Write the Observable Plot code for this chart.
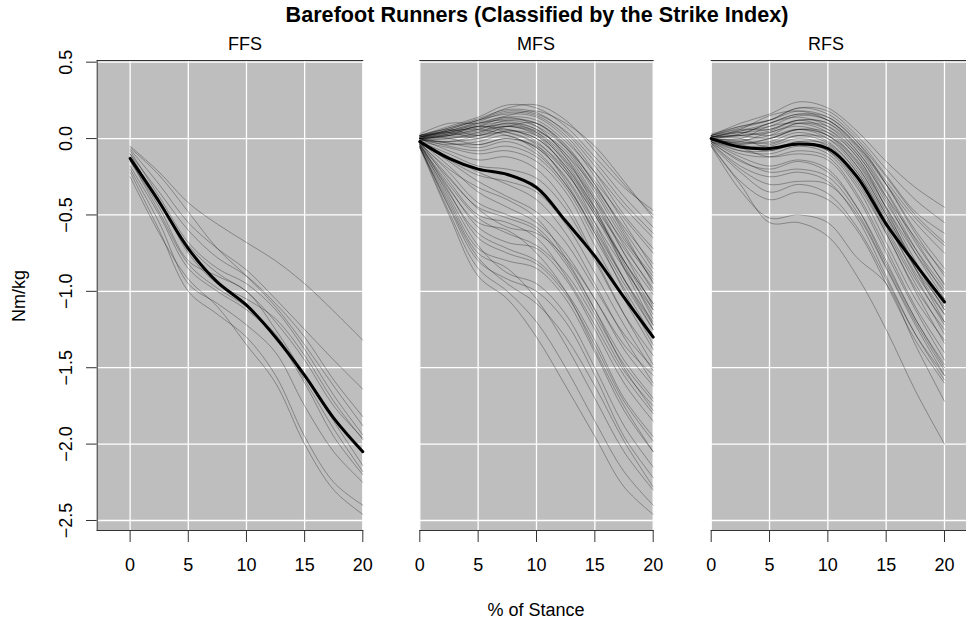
<!DOCTYPE html>
<html>
<head>
<meta charset="utf-8">
<script src="https://cdn.jsdelivr.net/npm/d3@7"></script>
<script src="https://cdn.jsdelivr.net/npm/@observablehq/plot@0.6"></script>
<style>
  html, body { margin: 0; padding: 0; background: #fff; }
  #chart { position: relative; width: 966px; height: 623px; overflow: hidden;
           font-family: "Liberation Sans", Arial, Helvetica, sans-serif; color: #000; }
  .lbl { position: absolute; white-space: nowrap; line-height: 1; }
  #chart svg { position: absolute; top: 0; }
</style>
</head>
<body>
<div id="chart"></div>
<script>
// Sample points along the stance phase (% of stance)
const stance = [0, 2.5, 5, 7.5, 10, 12.5, 15, 17.5, 20];

const groups = ["FFS", "MFS", "RFS"];
const xTicks = [0, 5, 10, 15, 20];
const yTicks = [-2.5, -2, -1.5, -1, -0.5, 0, 0.5];

// Forefoot strikers: individual moment curves (Nm/kg)
const ffsCurves = [
  [-0.05, -0.22, -0.42, -0.56, -0.68, -0.80, -0.95, -1.13, -1.32],
  [-0.07, -0.30, -0.55, -0.72, -0.86, -1.05, -1.25, -1.45, -1.64],
  [-0.10, -0.35, -0.60, -0.78, -0.90, -1.08, -1.30, -1.58, -1.82],
  [-0.08, -0.38, -0.68, -0.85, -0.95, -1.12, -1.38, -1.68, -1.94],
  [-0.12, -0.40, -0.75, -0.95, -1.05, -1.18, -1.42, -1.72, -1.97],
  [-0.15, -0.45, -0.80, -0.90, -1.00, -1.25, -1.55, -1.85, -2.14],
  [-0.18, -0.50, -0.85, -1.00, -1.12, -1.30, -1.60, -1.95, -2.20],
  [-0.20, -0.55, -0.95, -1.08, -1.22, -1.40, -1.75, -2.05, -2.25],
  [-0.22, -0.60, -1.00, -1.15, -1.30, -1.55, -1.95, -2.25, -2.40],
  [-0.25, -0.62, -0.92, -1.10, -1.35, -1.60, -2.00, -2.30, -2.46],
  [-0.10, -0.42, -0.70, -0.88, -1.00, -1.20, -1.45, -1.75, -1.96],
  [-0.14, -0.48, -0.82, -0.98, -1.10, -1.28, -1.58, -1.90, -2.18],
  [-0.06, -0.24, -0.48, -0.72, -0.90, -1.10, -1.35, -1.62, -1.88]
];
const ffsMean = [-0.13, -0.415, -0.72, -0.94, -1.09, -1.30, -1.55, -1.83, -2.05];

// Midfoot strikers
const mfsCurves = [
  [0.02, 0.08, 0.14, 0.22, 0.20, 0.08, -0.12, -0.32, -0.47],
  [0.01, 0.06, 0.12, 0.18, 0.16, 0.05, -0.15, -0.38, -0.58],
  [0.03, 0.10, 0.10, 0.15, 0.18, 0.10, -0.05, -0.28, -0.52],
  [0.00, 0.04, 0.08, 0.14, 0.12, -0.02, -0.22, -0.45, -0.65],
  [0.01, 0.05, 0.10, 0.12, 0.08, -0.06, -0.28, -0.52, -0.75],
  [0.00, 0.02, 0.06, 0.10, 0.06, -0.10, -0.32, -0.58, -0.82],
  [0.02, 0.06, 0.02, 0.08, 0.10, -0.05, -0.30, -0.60, -0.88],
  [0.00, 0.00, 0.04, 0.10, 0.04, -0.14, -0.40, -0.68, -0.92],
  [-0.01, 0.03, 0.08, 0.06, 0.00, -0.18, -0.45, -0.72, -0.98],
  [0.01, 0.04, 0.00, 0.05, 0.02, -0.15, -0.42, -0.75, -1.02],
  [0.00, -0.02, 0.02, 0.06, -0.02, -0.22, -0.50, -0.80, -1.08],
  [0.02, 0.05, 0.06, 0.02, -0.06, -0.25, -0.55, -0.85, -1.12],
  [0.00, 0.00, -0.04, 0.00, -0.05, -0.22, -0.50, -0.84, -1.15],
  [-0.01, -0.04, -0.02, 0.02, -0.08, -0.30, -0.60, -0.92, -1.20],
  [0.01, 0.02, 0.04, 0.08, 0.02, -0.20, -0.55, -0.92, -1.25],
  [0.00, -0.05, -0.08, -0.05, -0.12, -0.32, -0.65, -0.98, -1.30],
  [0.02, 0.04, 0.10, 0.14, 0.08, -0.12, -0.45, -0.85, -1.22],
  [0.00, 0.06, 0.12, 0.16, 0.14, 0.00, -0.25, -0.55, -0.85],
  [0.01, 0.03, 0.06, 0.12, 0.10, -0.04, -0.30, -0.62, -0.95],
  [-0.02, -0.06, -0.10, -0.08, -0.15, -0.35, -0.70, -1.05, -1.38],
  [0.00, -0.08, -0.14, -0.12, -0.20, -0.42, -0.78, -1.15, -1.48],
  [0.00, 0.02, 0.08, 0.04, -0.04, -0.28, -0.62, -1.00, -1.35],
  [0.02, 0.07, 0.13, 0.19, 0.17, 0.04, -0.18, -0.42, -0.62],
  [0.01, 0.04, 0.08, 0.11, 0.06, -0.10, -0.38, -0.70, -1.00],
  [0.00, 0.01, 0.03, 0.08, 0.04, -0.12, -0.40, -0.75, -1.10],
  [-0.01, -0.03, -0.06, -0.02, -0.10, -0.30, -0.62, -0.95, -1.25],
  [0.01, 0.07, 0.12, 0.20, 0.22, 0.12, -0.08, -0.30, -0.50],
  [0.00, 0.03, 0.07, 0.09, 0.05, -0.08, -0.35, -0.66, -0.90],
  [0.02, 0.05, 0.09, 0.13, 0.10, -0.06, -0.33, -0.64, -0.94],
  [-0.01, 0.00, 0.02, 0.04, -0.03, -0.20, -0.48, -0.80, -1.08],
  [0.00, -0.03, -0.04, 0.00, -0.06, -0.26, -0.58, -0.92, -1.22],
  [0.01, 0.05, 0.11, 0.17, 0.15, 0.02, -0.22, -0.50, -0.72],
  [0.00, 0.02, 0.05, 0.08, 0.03, -0.16, -0.46, -0.80, -1.12],
  [-0.01, -0.02, 0.00, 0.05, 0.00, -0.18, -0.48, -0.82, -1.18],
  [-0.02, -0.10, -0.18, -0.20, -0.26, -0.46, -0.80, -1.15, -1.42],
  [-0.03, -0.14, -0.24, -0.28, -0.35, -0.56, -0.88, -1.22, -1.52],
  [-0.02, -0.12, -0.22, -0.30, -0.40, -0.62, -0.95, -1.30, -1.60],
  [-0.04, -0.26, -0.45, -0.52, -0.60, -0.82, -1.15, -1.48, -1.72],
  [-0.02, -0.18, -0.35, -0.45, -0.55, -0.75, -1.05, -1.35, -1.55],
  [-0.03, -0.22, -0.42, -0.50, -0.58, -0.80, -1.12, -1.45, -1.70],
  [-0.02, -0.28, -0.50, -0.55, -0.65, -0.90, -1.22, -1.55, -1.80],
  [-0.04, -0.32, -0.58, -0.68, -0.72, -0.92, -1.25, -1.60, -1.85],
  [-0.03, -0.35, -0.65, -0.75, -0.82, -1.02, -1.35, -1.72, -1.98],
  [-0.05, -0.40, -0.72, -0.80, -0.85, -1.05, -1.40, -1.78, -2.05],
  [-0.04, -0.38, -0.70, -0.88, -0.95, -1.15, -1.50, -1.88, -2.15],
  [-0.05, -0.45, -0.80, -0.92, -1.00, -1.20, -1.55, -1.95, -2.22],
  [-0.06, -0.42, -0.75, -0.85, -1.05, -1.35, -1.70, -2.05, -2.30],
  [-0.05, -0.48, -0.85, -1.00, -1.20, -1.50, -1.85, -2.18, -2.40],
  [-0.06, -0.50, -0.90, -1.05, -1.30, -1.62, -1.95, -2.28, -2.46],
  [-0.02, -0.15, -0.28, -0.38, -0.48, -0.68, -0.98, -1.28, -1.50],
  [-0.03, -0.20, -0.32, -0.40, -0.52, -0.78, -1.12, -1.50, -1.78],
  [-0.04, -0.30, -0.52, -0.62, -0.70, -0.88, -1.18, -1.52, -1.75],
  [-0.03, -0.25, -0.46, -0.58, -0.62, -0.78, -1.05, -1.38, -1.62],
  [-0.05, -0.36, -0.62, -0.72, -0.80, -1.00, -1.32, -1.70, -1.95],
  [-0.04, -0.33, -0.55, -0.60, -0.75, -1.00, -1.38, -1.75, -2.05],
  [-0.06, -0.44, -0.78, -0.95, -1.08, -1.30, -1.62, -1.98, -2.28]
];
const mfsMean = [-0.02, -0.13, -0.20, -0.235, -0.32, -0.54, -0.77, -1.04, -1.30];

// Rearfoot strikers
const rfsCurves = [
  [0.02, 0.10, 0.16, 0.24, 0.20, 0.05, -0.15, -0.32, -0.45],
  [0.03, 0.08, 0.12, 0.20, 0.18, 0.02, -0.20, -0.40, -0.55],
  [0.01, 0.06, 0.15, 0.18, 0.12, -0.05, -0.30, -0.55, -0.75],
  [0.02, 0.05, 0.08, 0.15, 0.12, -0.04, -0.28, -0.52, -0.70],
  [0.00, 0.03, 0.10, 0.14, 0.08, -0.10, -0.38, -0.65, -0.88],
  [0.01, 0.02, 0.05, 0.12, 0.10, -0.08, -0.35, -0.68, -0.95],
  [0.00, 0.00, 0.08, 0.10, 0.04, -0.15, -0.45, -0.75, -1.00],
  [-0.01, -0.02, 0.04, 0.08, 0.02, -0.18, -0.50, -0.82, -1.05],
  [0.01, 0.04, 0.02, 0.06, 0.00, -0.20, -0.52, -0.85, -1.10],
  [0.00, -0.03, -0.02, 0.04, -0.02, -0.22, -0.55, -0.88, -1.15],
  [-0.02, -0.06, -0.05, 0.00, -0.05, -0.25, -0.58, -0.92, -1.20],
  [0.00, -0.04, -0.08, -0.02, -0.08, -0.30, -0.62, -0.98, -1.25],
  [-0.01, -0.08, -0.10, -0.05, -0.10, -0.32, -0.68, -1.05, -1.32],
  [-0.02, -0.10, -0.12, -0.08, -0.12, -0.36, -0.72, -1.10, -1.40],
  [0.01, 0.03, 0.10, 0.16, 0.14, -0.02, -0.30, -0.62, -0.90],
  [0.02, 0.06, 0.06, 0.12, 0.06, -0.12, -0.42, -0.72, -0.98],
  [0.00, -0.01, 0.02, 0.10, 0.06, -0.10, -0.40, -0.75, -1.05],
  [-0.01, -0.05, -0.04, 0.02, 0.00, -0.18, -0.50, -0.85, -1.15],
  [0.00, -0.06, -0.12, -0.10, -0.14, -0.38, -0.75, -1.12, -1.45],
  [-0.02, -0.12, -0.18, -0.14, -0.20, -0.45, -0.82, -1.18, -1.50],
  [0.01, 0.02, 0.00, 0.06, 0.02, -0.14, -0.45, -0.80, -1.12],
  [0.02, 0.08, 0.12, 0.18, 0.14, -0.02, -0.25, -0.50, -0.68],
  [-0.01, -0.04, 0.00, 0.06, 0.04, -0.12, -0.46, -0.85, -1.20],
  [0.00, 0.00, -0.06, -0.02, -0.04, -0.26, -0.60, -0.95, -1.28],
  [0.01, 0.05, 0.10, 0.16, 0.12, -0.04, -0.30, -0.60, -0.85],
  [0.00, 0.02, 0.04, 0.10, 0.08, -0.08, -0.38, -0.72, -1.02],
  [-0.01, -0.03, 0.00, 0.06, 0.02, -0.16, -0.48, -0.82, -1.12],
  [0.00, -0.02, -0.03, 0.02, -0.03, -0.22, -0.54, -0.90, -1.22],
  [0.01, 0.04, 0.06, 0.12, 0.10, -0.06, -0.34, -0.66, -0.96],
  [-0.02, -0.08, -0.08, -0.04, -0.08, -0.28, -0.62, -1.00, -1.34],
  [0.02, 0.07, 0.12, 0.20, 0.16, 0.00, -0.24, -0.48, -0.62],
  [-0.03, -0.14, -0.22, -0.20, -0.25, -0.48, -0.84, -1.20, -1.52],
  [-0.03, -0.20, -0.30, -0.28, -0.30, -0.50, -0.85, -1.22, -1.55],
  [-0.04, -0.28, -0.40, -0.35, -0.40, -0.60, -0.95, -1.32, -1.60],
  [-0.05, -0.34, -0.52, -0.50, -0.55, -0.78, -0.95, -1.35, -1.72],
  [-0.05, -0.30, -0.55, -0.55, -0.64, -0.90, -1.25, -1.65, -2.00],
  [-0.03, -0.18, -0.25, -0.22, -0.28, -0.52, -0.90, -1.28, -1.58],
  [-0.02, -0.15, -0.20, -0.15, -0.22, -0.45, -0.80, -1.18, -1.48],
  [-0.04, -0.22, -0.35, -0.30, -0.36, -0.58, -0.92, -1.28, -1.55]
];
const rfsMean = [0.0, -0.055, -0.065, -0.035, -0.065, -0.25, -0.56, -0.82, -1.07];

const curvesByGroup = { FFS: ffsCurves, MFS: mfsCurves, RFS: rfsCurves };
const meanByGroup = { FFS: ffsMean, MFS: mfsMean, RFS: rfsMean };

// Panel layout (pixels within the 966 x 623 figure)
const layout = {
  FFS: { left: 0,   width: 370, ml: 96.7, mr: 7.7,  x: [-2.83, 20],    yAxis: true,  label: 245 },
  MFS: { left: 380, width: 290, ml: 39.3, mr: 17.3, x: [0, 20],        yAxis: false, label: 536 },
  RFS: { left: 680, width: 286, ml: 30.7, mr: 0,    x: [0, 21.886],    yAxis: false, label: 826 }
};

const toRows = (curves) => curves.flatMap((c, id) => c.map((v, j) => ({ id, x: stance[j], y: v })));
const meanRows = (m) => m.map((v, j) => ({ x: stance[j], y: v }));
const fmt = (d) => (d < 0 ? "\u2212" : "") + Math.abs(d).toFixed(1);

const chart = document.getElementById("chart");
const font = '"Liberation Sans", Arial, Helvetica, sans-serif';

for (const g of groups) {
  const L = layout[g];
  const marks = [
    Plot.frame({ fill: "#BEBEBE", stroke: "none" }),
    Plot.gridX(xTicks, { stroke: "white", strokeOpacity: 1, strokeWidth: 1.3 }),
    Plot.gridY(yTicks, { stroke: "white", strokeOpacity: 1, strokeWidth: 1.3 }),
    Plot.line(toRows(curvesByGroup[g]), {
      x: "x", y: "y", z: "id", stroke: "black", strokeOpacity: 0.3, strokeWidth: 1, curve: "catmull-rom"
    }),
    Plot.line(meanRows(meanByGroup[g]), {
      x: "x", y: "y", stroke: "black", strokeWidth: 3, curve: "catmull-rom"
    }),
    Plot.frame({ anchor: "top", stroke: "#333" }),
    Plot.frame({ anchor: "bottom", stroke: "#333" }),
    Plot.axisX(xTicks, {
      anchor: "bottom", tickSize: 12, tickPadding: 16, fontSize: 18, label: null, stroke: "#333"
    })
  ];
  if (L.yAxis) {
    marks.push(
      Plot.frame({ anchor: "left", stroke: "#333" }),
      Plot.axisY(yTicks, {
        anchor: "left", tickSize: 10.7, tickPadding: 15, tickRotate: -90,
        textAnchor: "middle", lineAnchor: "bottom", fontSize: 18,
        tickFormat: fmt, label: null, stroke: "#333"
      })
    );
  }
  const svg = Plot.plot({
    width: L.width,
    height: 600,
    marginLeft: L.ml,
    marginRight: L.mr,
    marginTop: 60,
    marginBottom: 70,
    x: { domain: L.x, axis: null },
    y: { domain: [-2.5655, 0.511], axis: null },
    style: { background: "none", fontFamily: font, fontSize: "18px", overflow: "visible" },
    marks
  });
  svg.style.left = L.left + "px";
  chart.appendChild(svg);

  const t = document.createElement("div");
  t.className = "lbl";
  t.textContent = g;
  t.style.cssText = `left:${L.label}px; top:35px; font-size:18px; transform:translateX(-50%);`;
  chart.appendChild(t);
}

// Figure title and shared axis labels
const title = document.createElement("div");
title.className = "lbl";
title.textContent = "Barefoot Runners (Classified by the Strike Index)";
title.style.cssText = "left:537px; top:4px; font-size:21.6px; font-weight:bold; transform:translateX(-50%);";
chart.appendChild(title);

const xl = document.createElement("div");
xl.className = "lbl";
xl.textContent = "% of Stance";
xl.style.cssText = "left:536px; top:601px; font-size:18px; transform:translateX(-50%);";
chart.appendChild(xl);

const yl = document.createElement("div");
yl.className = "lbl";
yl.textContent = "Nm/kg";
yl.style.cssText = "left:19px; top:296px; font-size:18px; transform:translate(-50%,-50%) rotate(-90deg);";
chart.appendChild(yl);
</script>
</body>
</html>
